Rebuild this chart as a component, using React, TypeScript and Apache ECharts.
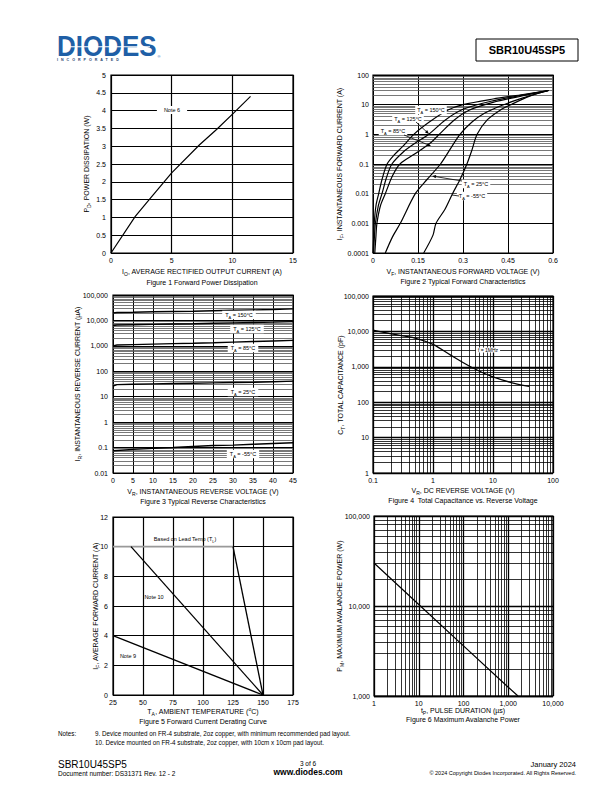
import React, { useEffect, useRef } from "react";
import * as echarts from "echarts";

const FONT = "Liberation Sans, Arial, Helvetica, sans-serif";

// ---------- Figure 1: Forward power dissipation ----------
const fig1Current = [0, 2, 3.2, 5, 7.3, 8.7, 10.1, 11.5];
const fig1Power = [0, 1.03, 1.52, 2.25, 3.04, 3.47, 3.93, 4.4];

// ---------- Figure 2: Typical forward characteristics (V, A) ----------
const vf150: [number, number][] = [[0, 0.0001], [0.002, 0.0003], [0.004, 0.001], [0.01, 0.004], [0.019, 0.01], [0.03, 0.03], [0.047, 0.1], [0.07, 0.2], [0.1, 0.4], [0.136, 1], [0.19, 2.7], [0.25, 6.6], [0.3, 10], [0.4, 15.5], [0.5, 22], [0.585, 30]];
const vf125: [number, number][] = [[0.002, 0.0001], [0.005, 0.0004], [0.008, 0.001], [0.018, 0.004], [0.03, 0.01], [0.045, 0.035], [0.063, 0.1], [0.1, 0.25], [0.14, 0.5], [0.186, 1], [0.24, 3], [0.3, 7], [0.4, 13.5], [0.5, 21], [0.585, 30]];
const vf85: [number, number][] = [[0.006, 0.0001], [0.01, 0.0004], [0.013, 0.001], [0.025, 0.004], [0.041, 0.01], [0.065, 0.04], [0.09, 0.1], [0.14, 0.22], [0.19, 0.5], [0.225, 1.1], [0.27, 3], [0.32, 6.5], [0.4, 12], [0.5, 20], [0.585, 30]];
const vf25: [number, number][] = [[0.041, 0.0001], [0.065, 0.00035], [0.091, 0.001], [0.141, 0.01], [0.18, 0.03], [0.225, 0.1], [0.26, 0.35], [0.29, 1], [0.33, 2.6], [0.37, 5], [0.424, 9], [0.5, 17], [0.585, 30]];
const vfM55: [number, number][] = [[0.169, 0.0001], [0.2, 0.0004], [0.21, 0.001], [0.24, 0.003], [0.265, 0.01], [0.29, 0.03], [0.313, 0.1], [0.33, 0.3], [0.347, 1], [0.38, 3], [0.425, 6.6], [0.46, 10], [0.52, 19], [0.585, 30]];

// ---------- Figure 3: Typical reverse characteristics (V, µA) ----------
const fig3Voltage = [0, 1, 5, 10, 15, 20, 25, 30, 35, 40, 45];
const ir150 = [19500, 20500, 21000, 22000, 22500, 23000, 24000, 25000, 26000, 27000, 28500];
const ir125 = [6300, 6600, 6800, 7000, 7200, 7400, 7700, 8000, 8300, 8600, 9000];
const ir85 = [1000, 1080, 1120, 1170, 1220, 1270, 1330, 1400, 1480, 1560, 1650];
const ir25 = [26, 30, 31, 32, 33, 34, 35, 36, 37, 39, 41];
const irM55 = [0.075, 0.077, 0.085, 0.093, 0.1, 0.11, 0.12, 0.125, 0.135, 0.145, 0.155];

// ---------- Figure 4: Total capacitance vs reverse voltage ----------
const fig4Voltage = [0.1, 0.2, 0.5, 1, 2, 4, 6, 10, 20, 40];
const fig4Cap = [10800, 8500, 6500, 4300, 2100, 1050, 750, 520, 360, 280];

// ---------- Figure 5: Forward current derating ----------
const leadTemp: [number, number][] = [[25, 10], [125, 10], [150, 0]];
const note10Line: [number, number][] = [[40, 10], [150, 0]];
const note9Line: [number, number][] = [[25, 4], [150, 0]];

// ---------- Figure 6: Maximum avalanche power ----------
const fig6Duration = [1, 10, 100, 1000, 1650];
const fig6Power = [30000, 10400, 3600, 1250, 1000];

const minorLog = (lo: number, hi: number) => {
  const out: number[] = [];
  for (let e = Math.floor(Math.log10(lo)); e < Math.ceil(Math.log10(hi)); e++) {
    for (let d = 2; d <= 9; d++) {
      const v = +(d * Math.pow(10, e)).toPrecision(3);
      if (v > lo && v < hi) out.push(v);
    }
  }
  return out;
};

const logFmt = (v: number) =>
  v >= 1 ? Math.round(v).toLocaleString("en-US") : String(+v.toPrecision(1));

const labelStyle = (margin: number) => ({
  fontSize: 7,
  fontFamily: FONT,
  color: "#000",
  margin,
});

const majorLine = (w = 1) => ({ show: true, lineStyle: { color: "#000", width: w, type: "solid" as const } });

const valueAxis = (gi: number, min: number, max: number, interval: number, margin: number, fmt?: (v: number) => string, w = 1) => ({
  gridIndex: gi,
  type: "value" as const,
  min,
  max,
  interval,
  axisLine: { show: false },
  axisTick: { show: false },
  axisLabel: { ...labelStyle(margin), formatter: fmt },
  splitLine: majorLine(w),
});

const logAxis = (gi: number, min: number, max: number, decades: number, margin: number, w = 1) => ({
  gridIndex: gi,
  type: "log" as const,
  logBase: 10,
  min,
  max,
  splitNumber: decades,
  axisLine: { show: false },
  axisTick: { show: false },
  axisLabel: { ...labelStyle(margin), formatter: logFmt },
  splitLine: majorLine(w),
  minorTick: { show: false },
  minorSplitLine: { show: false },
});

const gridSeries = (i: number, xs: number[], ys: number[], color: string, width: number) => ({
  type: "line" as const,
  xAxisIndex: i,
  yAxisIndex: i,
  data: [],
  silent: true,
  z: 1,
  markLine: {
    silent: true,
    z: 1,
    symbol: ["none", "none"],
    label: { show: false },
    emphasis: { disabled: true },
    animation: false,
    lineStyle: { color, width, type: "solid" },
    data: [...xs.map((v) => ({ xAxis: v })), ...ys.map((v) => ({ yAxis: v }))],
  },
});

const curve = (i: number, data: any[], smooth: number | boolean = false, width = 1.2, color = "#000") => ({
  type: "line" as const,
  xAxisIndex: i,
  yAxisIndex: i,
  data,
  showSymbol: false,
  symbol: "none",
  smooth,
  silent: true,
  z: 10,
  lineStyle: { color, width },
});

const rich = (fs: number) => ({
  m: { fontSize: fs, fontFamily: FONT, fill: "#000", lineHeight: fs + 3, verticalAlign: "middle" },
  s: { fontSize: fs * 0.72, fontFamily: FONT, fill: "#000", lineHeight: fs * 0.72, verticalAlign: "bottom" },
  p: { fontSize: fs * 0.72, fontFamily: FONT, fill: "#000", lineHeight: fs * 0.72, verticalAlign: "top" },
});

const txt = (x: number, y: number, text: string, o: any = {}) => ({
  type: "text",
  x,
  y,
  rotation: o.rotate ? Math.PI / 2 : 0,
  silent: true,
  z: 100,
  scaleX: o.scaleX ?? 1,
  scaleY: o.scaleY ?? 1,
  style: {
    text,
    fontSize: o.fs ?? 7,
    fontFamily: o.family ?? FONT,
    fontWeight: o.weight ?? "normal",
    fill: o.fill ?? "#000",
    align: o.align ?? "center",
    verticalAlign: "middle",
    rich: rich(o.fs ?? 7),
    backgroundColor: o.bg,
    padding: o.pad,
  },
});

const arrow = (x1: number, y1: number, x2: number, y2: number) => {
  const a = Math.atan2(y2 - y1, x2 - x1);
  const L = 4, W = 1.6;
  const bx = x2 - L * Math.cos(a), by = y2 - L * Math.sin(a);
  const px = -Math.sin(a) * W, py = Math.cos(a) * W;
  return [
    { type: "line", silent: true, z: 100, shape: { x1, y1, x2: bx, y2: by }, style: { stroke: "#000", lineWidth: 0.8 } },
    { type: "polygon", silent: true, z: 100, shape: { points: [[x2, y2], [bx + px, by + py], [bx - px, by - py]] }, style: { fill: "#000" } },
  ];
};

const ta = (t: string) => `{m|T}{s|A}{m| = ${t}}`;

const buildOption = () => {
  const grids = [
    { left: 111, top: 75, width: 182, height: 178 },
    { left: 373, top: 75, width: 180, height: 178 },
    { left: 113, top: 295, width: 180, height: 178 },
    { left: 373, top: 296, width: 180, height: 177 },
    { left: 113, top: 517, width: 180, height: 178 },
    { left: 374, top: 516, width: 179, height: 180 },
  ].map((g) => ({ ...g, show: true, borderColor: "#000", borderWidth: 1.2, backgroundColor: "transparent", containLabel: false }));

  const xAxis = [
    valueAxis(0, 0, 15, 5, 4, undefined, 1.2),
    valueAxis(1, 0, 0.6, 0.15, 4, (v: number) => String(+v.toFixed(2))),
    valueAxis(2, 0, 45, 5, 4),
    logAxis(3, 0.1, 100, 3, 4, 1.3),
    valueAxis(4, 25, 175, 25, 4, undefined, 1.2),
    logAxis(5, 1, 10000, 4, 4, 1.3),
  ];
  const yAxis = [
    valueAxis(0, 0, 5, 0.5, 5, undefined, 1),
    logAxis(1, 0.0001, 100, 6, 4),
    logAxis(2, 0.01, 100000, 7, 5),
    logAxis(3, 1, 100000, 5, 4, 1.3),
    valueAxis(4, 0, 12, 2, 5, undefined, 1.2),
    logAxis(5, 1000, 100000, 2, 4, 1.3),
  ];

  const series = [
    gridSeries(1, [], minorLog(0.0001, 100), "#555", 0.8),
    gridSeries(2, [], minorLog(0.01, 100000), "#555", 0.8),
    gridSeries(3, minorLog(0.1, 100), minorLog(1, 100000), "#000", 0.8),
    gridSeries(5, minorLog(1, 10000), minorLog(1000, 100000), "#000", 0.8),
    curve(0, fig1Current.map((x, i) => [x, fig1Power[i]]), false, 1.2),
    curve(1, vf150, 0.3),
    curve(1, vf125, 0.3),
    curve(1, vf85, 0.3),
    curve(1, vf25, 0.3),
    curve(1, vfM55, 0.3),
    curve(2, fig3Voltage.map((x, i) => [x, ir150[i]]), false, 1.4),
    curve(2, fig3Voltage.map((x, i) => [x, ir125[i]]), false, 1.4),
    curve(2, fig3Voltage.map((x, i) => [x, ir85[i]]), false, 1.4),
    curve(2, fig3Voltage.map((x, i) => [x, ir25[i]]), false, 1.4),
    curve(2, fig3Voltage.map((x, i) => [x, irM55[i]]), false, 1.4),
    curve(3, fig4Voltage.map((x, i) => [x, fig4Cap[i]]), 0.3, 1.3),
    curve(4, leadTemp.slice(0, 2), false, 1.6, "#999"),
    curve(4, leadTemp.slice(1), false, 1.3),
    curve(4, note10Line, false, 1.3),
    curve(4, note9Line, false, 1.3),
    curve(5, fig6Duration.map((x, i) => [x, fig6Power[i]]), false, 1.2),
  ];

  const graphic: any[] = [
    // header
    txt(57, 46, "DIODES", { fs: 26, weight: "bold", fill: "#1f5fa6", align: "left", scaleY: 1.15 }),
    { type: "rect", silent: true, z: 101, shape: { x: 66, y: 46.2, width: 84, height: 1.1 }, style: { fill: "#fff" } },
    txt(57, 60, "I   N   C   O   R   P   O   R   A   T   E   D", { fs: 3.6, weight: "bold", fill: "#1f3f6f", align: "left" }),
    txt(159, 56, "®", { fs: 4, fill: "#1f5fa6" }),
    { type: "rect", silent: true, z: 100, shape: { x: 476, y: 39, width: 102, height: 22 }, style: { fill: "none", stroke: "#000", lineWidth: 1 } },
    txt(527, 50, "SBR10U45SP5", { fs: 11, weight: "bold" }),

    // Figure 1
    txt(172, 110, "Note 6", { fs: 5.5, bg: "#fff", pad: [1, 7] }),
    txt(202, 271, "{m|I}{s|O}{m|, AVERAGE RECTIFIED OUTPUT CURRENT (A)}"),
    txt(202, 282, "Figure 1 Forward Power Dissipation"),
    txt(86, 164, "{m|P}{s|D}{m|, POWER DISSIPATION (W)}", { rotate: true }),

    // Figure 2
    txt(431, 110, ta("150°C"), { fs: 5.5, bg: "#fff", pad: [0, 2] }),
    txt(408, 119, ta("125°C"), { fs: 5.5, bg: "#fff", pad: [0, 2] }),
    txt(393, 131, ta("85°C"), { fs: 5.5, bg: "#fff", pad: [0, 2] }),
    txt(476, 184, ta("25°C"), { fs: 5.5, bg: "#fff", pad: [0, 2] }),
    txt(472, 196, ta("-55°C"), { fs: 5.5, bg: "#fff", pad: [0, 2] }),
    ...arrow(416, 122, 429, 134),
    ...arrow(404, 135, 431, 146),
    ...arrow(462, 181, 432, 176),
    { type: "line", silent: true, z: 100, shape: { x1: 459, y1: 196, x2: 452, y2: 195 }, style: { stroke: "#000", lineWidth: 0.8 } },
    txt(463, 271, "{m|V}{s|F}{m|, INSTANTANEOUS FORWARD VOLTAGE (V)}"),
    txt(463, 281, "Figure 2 Typical Forward Characteristics"),
    txt(339, 164, "{m|I}{s|F}{m|, INSTANTANEOUS FORWARD CURRENT (A)}", { rotate: true }),

    // Figure 3
    txt(239, 315, ta("150°C"), { fs: 5.5, bg: "#fff", pad: [0, 3] }),
    txt(247, 329, ta("125°C"), { fs: 5.5, bg: "#fff", pad: [0, 3] }),
    txt(243, 348, ta("85°C"), { fs: 5.5, bg: "#fff", pad: [0, 3] }),
    txt(243, 392, ta("25°C"), { fs: 5.5, bg: "#fff", pad: [0, 3] }),
    txt(243, 454, ta("-55°C"), { fs: 5.5, bg: "#fff", pad: [0, 3] }),
    txt(203, 491, "{m|V}{s|R}{m|, INSTANTANEOUS REVERSE VOLTAGE (V)}"),
    txt(203, 501, "Figure 3 Typical Reverse Characteristics"),
    txt(77, 384, "{m|I}{s|R}{m|, INSTANTANEOUS REVERSE CURRENT (µA)}", { rotate: true }),

    // Figure 4
    txt(488, 350, "f = 1MHz", { fs: 5, bg: "#fff", pad: [0, 2] }),
    txt(463, 490, "{m|V}{s|R}{m|, DC REVERSE VOLTAGE (V)}"),
    txt(463, 500, "Figure 4  Total Capacitance vs. Reverse Voltage"),
    txt(340, 385, "{m|C}{s|T}{m|, TOTAL CAPACITANCE (pF)}", { rotate: true }),

    // Figure 5
    txt(185, 539, "{m|Based on Lead Temp (T}{s|L}{m|)}", { fs: 5.5 }),
    txt(154, 597, "Note 10", { fs: 5.5 }),
    txt(128, 656, "Note 9", { fs: 5.5 }),
    txt(203, 711, "{m|T}{s|A}{m|, AMBIENT TEMPERATURE (}{p|o}{m|C)}"),
    txt(203, 721, "Figure 5 Forward Current Derating Curve"),
    txt(95, 606, "{m|I}{s|F}{m|, AVERAGE FORWARD CURRENT (A)}", { rotate: true }),

    // Figure 6
    txt(463, 710, "{m|t}{s|P}{m|, PULSE DURATION (µs)}"),
    txt(463, 719, "Figure 6 Maximum Avalanche Power"),
    txt(339, 606, "{m|P}{s|M}{m|, MAXIMUM AVALANCHE POWER (W)}", { rotate: true }),

    // Notes & footer
    txt(58, 733, "Notes:", { fs: 6.3, align: "left" }),
    txt(95, 733, "9. Device mounted on FR-4 substrate, 2oz copper, with minimum recommended pad layout.", { fs: 6.3, align: "left" }),
    txt(95, 742, "10. Device mounted on FR-4 substrate, 2oz copper, with 10cm x 10cm pad layout.", { fs: 6.3, align: "left" }),
    txt(58, 764, "SBR10U45SP5", { fs: 10, align: "left" }),
    txt(58, 773, "Document number: DS31371 Rev. 12 - 2", { fs: 6.5, align: "left" }),
    txt(308, 763, "3 of 6", { fs: 6.5 }),
    txt(308, 772, "www.diodes.com", { fs: 8.5, weight: "bold" }),
    txt(576, 764, "January 2024", { fs: 7.5, align: "right" }),
    txt(576, 772.5, "© 2024 Copyright Diodes Incorporated. All Rights Reserved.", { fs: 5.5, align: "right" }),
  ];

  return {
    animation: false,
    backgroundColor: "#fff",
    textStyle: { fontFamily: FONT },
    grid: grids,
    xAxis,
    yAxis,
    series,
    graphic,
  };
};

export default function App() {
  const ref = useRef<HTMLDivElement>(null);
  useEffect(() => {
    if (!ref.current) return;
    const chart = echarts.init(ref.current, null, { renderer: "svg" });
    chart.setOption(buildOption() as any);
    return () => chart.dispose();
  }, []);
  return (
    <div
      ref={ref}
      style={{ position: "absolute", left: 0, top: 0, width: 612, height: 792, background: "#fff" }}
    />
  );
}
